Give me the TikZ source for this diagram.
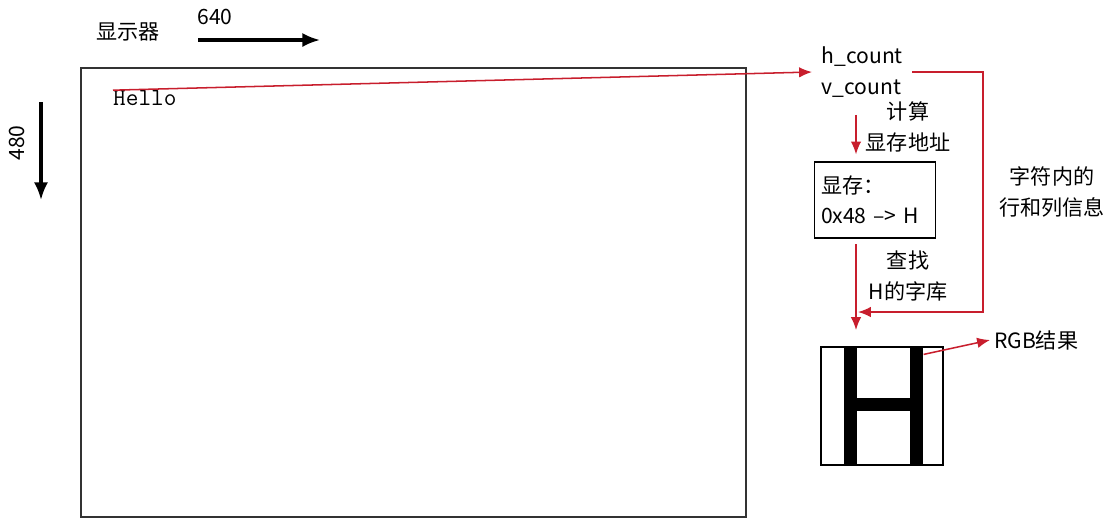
\documentclass[tikz,border=0pt]{standalone}
\usepackage{fontspec}
\setmainfont{Noto Sans CJK SC}
\usepackage{tikz}
\usetikzlibrary{arrows.meta, positioning, calc}
\definecolor{wirered}{RGB}{200,30,45}
\tikzstyle{basefont}=[font=\fontsize{18}{26}\selectfont]
\tikzstyle{label}=[basefont, align=center, inner sep=0pt]
\tikzstyle{memory}=[basefont, draw, line width=1pt, align=left, text width=3.24cm, inner xsep=0.2cm, minimum height=2.28cm]
\tikzstyle{bigarrow}=[line width=2.6pt, -{Latex[length=15pt,width=12pt]}]
\tikzstyle{wire}=[wirered, line width=1.3pt, -{Latex[length=11pt,width=9pt]}]

\begin{document}
\begin{tikzpicture}[x=0.03cm, y=-0.03cm]
        \useasboundingbox (0,0) rectangle (1105,519);

        % The screen and its size
        \draw[black!80, line width=1pt] (81,68) rectangle (746,517);
        \node[basefont] (title) at (128,32) {显示器};
        \node[basefont] (width) at (215,17) {640};
        \node[basefont, rotate=90] (height) at (17,143) {480};
        \coordinate (xfrom) at (198,40);
        \coordinate (xto) at (320,40);
        \coordinate (yfrom) at (41,102);
        \coordinate (yto) at (41,200);
        \draw[bigarrow] (xfrom) -- (xto);
        \draw[bigarrow] (yfrom) -- (yto);
        \node[font={\ttfamily\fontsize{21}{26}\selectfont}, anchor=west, inner sep=0pt]
            (hello) at (113,98) {Hello};

        % Counters, memory and font lookup
        \node[basefont, align=left, anchor=west, inner xsep=8pt, inner ysep=2pt]
            (counts) at (812,72) {h\_count\\v\_count};
        \coordinate (lane) at (856,0);
        \node[memory] (mem) at (875,200) {显存：\\0x48 –> H};
        \node[draw, line width=1pt, minimum width=3.66cm, minimum height=3.54cm, inner sep=0pt]
            (glyph) at (882,406) {};
        % Bars of the glyph
        \foreach \xa/\ya/\xb/\yb in {844/347/857/465, 910/347/923/465, 857/398/910/411}{
            \fill (\xa,\ya) rectangle (\xb,\yb);
        }
        \node[basefont, anchor=west] (rgb) at (990,340) {RGB结果};

        % Labels of the steps
        \node[label] (addr) at (908,127) {计算\\显存地址};
        \node[label] (lookup) at (908,276) {查找\\H的字库};
        \node[label] (pos) at (1052,192) {字符内的\\行和列信息};

        % Connectors
        \coordinate (hit) at (858,312);
        \coordinate (loop) at (983,312);
        \draw[wire] (hello.north west) -- (counts.west);
        \draw[wire, shorten <=13pt, shorten >=6pt] (counts.south -| lane) -- (mem.north -| lane);
        \draw[wire, shorten <=5pt, shorten >=14pt] (mem.south -| lane) -- (glyph.north -| lane);
        \draw[wire] (counts.east) -| (loop) -- (hit);
        \draw[wire] ($(glyph.north east)+(-20,8)$) -- (rgb.west);
\end{tikzpicture}
\end{document}
